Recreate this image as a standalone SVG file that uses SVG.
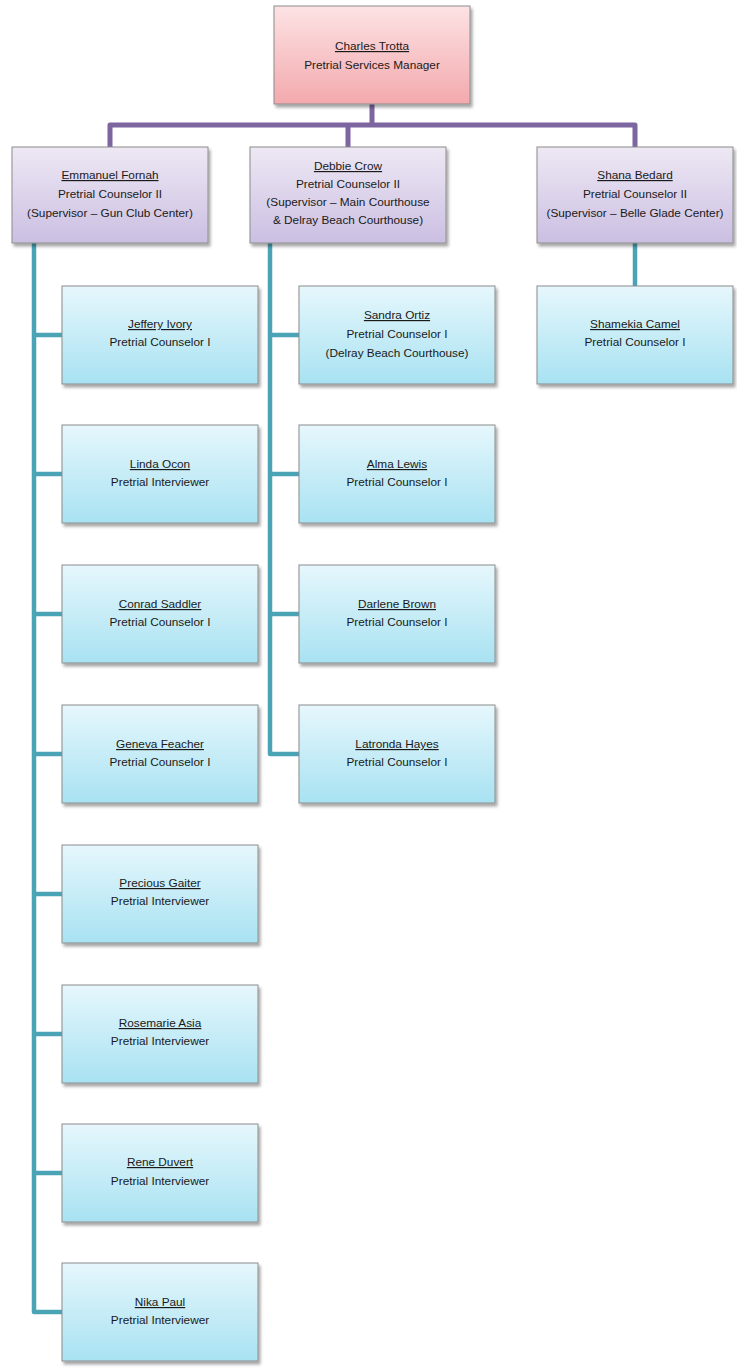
<svg xmlns="http://www.w3.org/2000/svg" width="737" height="1368" viewBox="0 0 737 1368">
<style>
text{font-family:"Liberation Sans",Arial,sans-serif;font-size:11.8px;fill:#1a1a1a;text-anchor:middle}
.n{text-decoration:underline}
.box{stroke:#8c8c8c;stroke-width:1}
.top{fill:url(#gp)}
.sup{fill:url(#gv)}
.ch{fill:url(#gc)}
.pl{stroke:#7d65a0;stroke-width:5;fill:none;stroke-linejoin:round}
.tl{stroke:#4ba3b6;stroke-width:4.5;fill:none;stroke-linejoin:round}
</style>
<defs>
<linearGradient id="gp" x1="0" y1="0" x2="0" y2="1"><stop offset="0" stop-color="#fde3e4"/><stop offset="1" stop-color="#f3a9ad"/></linearGradient>
<linearGradient id="gv" x1="0" y1="0" x2="0" y2="1"><stop offset="0" stop-color="#eee8f4"/><stop offset="1" stop-color="#cbbfe2"/></linearGradient>
<linearGradient id="gc" x1="0" y1="0" x2="0" y2="1"><stop offset="0" stop-color="#e6f7fc"/><stop offset="1" stop-color="#a8e2f2"/></linearGradient>
<filter id="sh" x="-10%" y="-10%" width="125%" height="130%"><feDropShadow dx="2" dy="3" stdDeviation="1.5" flood-color="#000" flood-opacity="0.35"/></filter>
</defs>
<g id="connectors">
<path class="pl" d="M372 104V125M110 147V125H635V147M348 125V147"/>
<path class="tl" d="M34 243V1312H62M34 335H62M34 474H62M34 614H62M34 754H62M34 894H62M34 1034H62M34 1173H62"/>
<path class="tl" d="M270 243V754H299M270 335H299M270 474H299M270 614H299"/>
<path class="tl" d="M635 243V286"/>
</g>
<g id="charles"><rect class="box top" x="274" y="6" width="196" height="98" filter="url(#sh)"/><text class="n" x="372" y="50">Charles Trotta</text><text x="372" y="69">Pretrial Services Manager</text></g>
<g id="emmanuel"><rect class="box sup" x="12" y="147" width="196" height="96" filter="url(#sh)"/><text class="n" x="110" y="179">Emmanuel Fornah</text><text x="110" y="198">Pretrial Counselor II</text><text x="110" y="217">(Supervisor – Gun Club Center)</text></g>
<g id="debbie"><rect class="box sup" x="250" y="147" width="196" height="96" filter="url(#sh)"/><text class="n" x="348" y="170">Debbie Crow</text><text x="348" y="188">Pretrial Counselor II</text><text x="348" y="206">(Supervisor – Main Courthouse</text><text x="348" y="224">&amp; Delray Beach Courthouse)</text></g>
<g id="shana"><rect class="box sup" x="537" y="147" width="196" height="96" filter="url(#sh)"/><text class="n" x="635" y="179">Shana Bedard</text><text x="635" y="198">Pretrial Counselor II</text><text x="635" y="217">(Supervisor – Belle Glade Center)</text></g>
<g id="jeffery"><rect class="box ch" x="62" y="286" width="196" height="98" filter="url(#sh)"/><text class="n" x="160" y="328">Jeffery Ivory</text><text x="160" y="346">Pretrial Counselor I</text></g>
<g id="linda"><rect class="box ch" x="62" y="425" width="196" height="98" filter="url(#sh)"/><text class="n" x="160" y="468">Linda Ocon</text><text x="160" y="486">Pretrial Interviewer</text></g>
<g id="conrad"><rect class="box ch" x="62" y="565" width="196" height="98" filter="url(#sh)"/><text class="n" x="160" y="608">Conrad Saddler</text><text x="160" y="626">Pretrial Counselor I</text></g>
<g id="geneva"><rect class="box ch" x="62" y="705" width="196" height="98" filter="url(#sh)"/><text class="n" x="160" y="748">Geneva Feacher</text><text x="160" y="766">Pretrial Counselor I</text></g>
<g id="precious"><rect class="box ch" x="62" y="845" width="196" height="98" filter="url(#sh)"/><text class="n" x="160" y="887">Precious Gaiter</text><text x="160" y="905">Pretrial Interviewer</text></g>
<g id="rosemarie"><rect class="box ch" x="62" y="985" width="196" height="98" filter="url(#sh)"/><text class="n" x="160" y="1027">Rosemarie Asia</text><text x="160" y="1045">Pretrial Interviewer</text></g>
<g id="rene"><rect class="box ch" x="62" y="1124" width="196" height="98" filter="url(#sh)"/><text class="n" x="160" y="1166">Rene Duvert</text><text x="160" y="1185">Pretrial Interviewer</text></g>
<g id="nika"><rect class="box ch" x="62" y="1263" width="196" height="98" filter="url(#sh)"/><text class="n" x="160" y="1306">Nika Paul</text><text x="160" y="1324">Pretrial Interviewer</text></g>
<g id="sandra"><rect class="box ch" x="299" y="286" width="196" height="98" filter="url(#sh)"/><text class="n" x="397" y="319">Sandra Ortiz</text><text x="397" y="338">Pretrial Counselor I</text><text x="397" y="357">(Delray Beach Courthouse)</text></g>
<g id="alma"><rect class="box ch" x="299" y="425" width="196" height="98" filter="url(#sh)"/><text class="n" x="397" y="468">Alma Lewis</text><text x="397" y="486">Pretrial Counselor I</text></g>
<g id="darlene"><rect class="box ch" x="299" y="565" width="196" height="98" filter="url(#sh)"/><text class="n" x="397" y="608">Darlene Brown</text><text x="397" y="626">Pretrial Counselor I</text></g>
<g id="latronda"><rect class="box ch" x="299" y="705" width="196" height="98" filter="url(#sh)"/><text class="n" x="397" y="748">Latronda Hayes</text><text x="397" y="766">Pretrial Counselor I</text></g>
<g id="shamekia"><rect class="box ch" x="537" y="286" width="196" height="98" filter="url(#sh)"/><text class="n" x="635" y="328">Shamekia Camel</text><text x="635" y="346">Pretrial Counselor I</text></g>
</svg>
